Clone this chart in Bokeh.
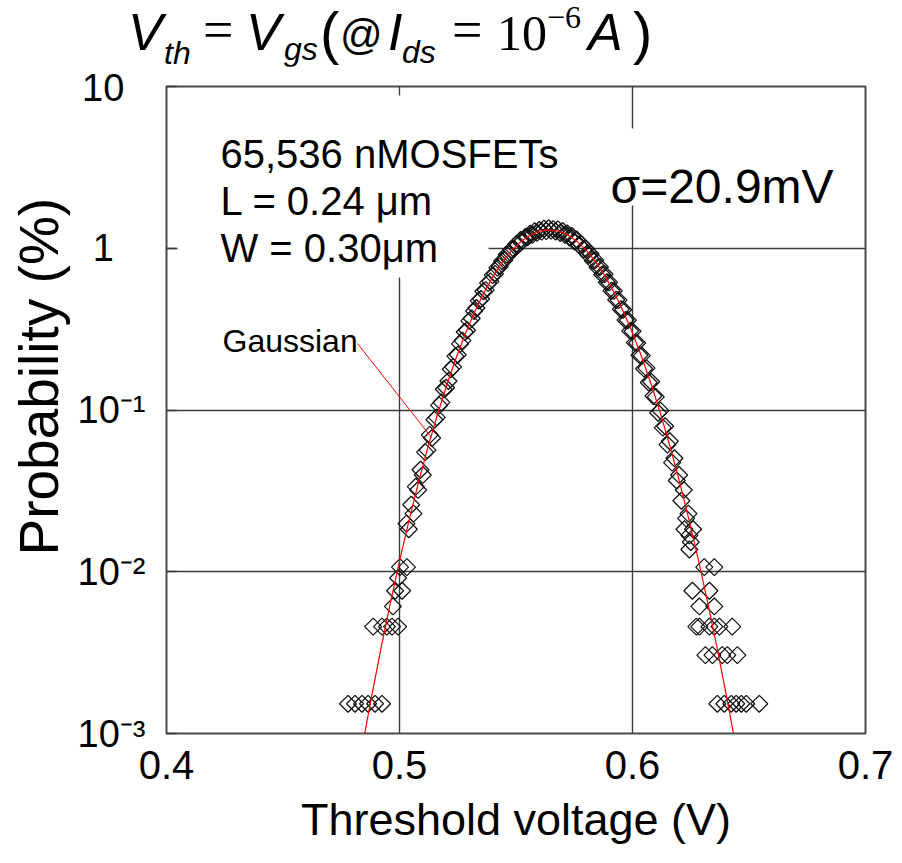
import numpy as np
from bokeh.plotting import figure
from bokeh.layouts import column
from bokeh.models import Range1d, FixedTicker, Label, BoxAnnotation, ColumnDataSource, Title, Div
from bokeh.embed import file_html
from bokeh.resources import INLINE

# ---------------- data ----------------
N_DEVICES = 65536

# main body of the histogram: threshold voltage (mV) and device counts per bin
body_vth_mV = list(range(503, 627))
body_counts = [13, 12, 17, 15, 22, 21, 28, 26, 36, 37, 46, 44, 57, 59, 70, 73, 88, 90, 99, 117,
               121, 141, 144, 168, 176, 199, 204, 233, 241, 268, 280, 311, 318, 355, 361, 400,
               409, 447, 455, 497, 505, 546, 553, 598, 603, 644, 650, 693, 688, 737, 730, 770,
               767, 806, 792, 835, 815, 850, 830, 866, 836, 871, 842, 860, 832, 857, 814, 838,
               792, 809, 762, 781, 724, 742, 689, 695, 644, 651, 596, 604, 548, 553, 499, 502,
               451, 453, 404, 403, 358, 357, 315, 313, 275, 273, 236, 235, 202, 201, 171, 170,
               143, 142, 118, 119, 97, 98, 80, 79, 63, 65, 51, 52, 40, 42, 31, 33, 24, 26, 18,
               21, 14, 15, 10, 12]

# scattered low-count tail bins
tail_vth_mV = [477.9, 480.9, 483.9, 486.5, 489.5, 492.5,
               488.7, 492.5, 494.6, 496.8, 499.4,
               497.2, 498.1, 501.1, 499.4, 500.2, 503.2,
               622.3, 624.4, 624.4, 630.8, 635.1, 625.7, 633.0, 628.7, 635.1,
               627.4, 628.7, 633.0, 635.1, 637.3, 642.8,
               631.3, 634.3, 638.5, 640.7, 645.0,
               636.4, 639.4, 642.4, 644.5, 646.7, 648.8, 654.4]
tail_counts = [1, 1, 1, 1, 1, 1,
               3, 3, 3, 3, 3,
               4, 5, 5, 6, 7, 7,
               12, 9, 11, 7, 7, 5, 5, 4, 4,
               3, 3, 3, 3, 3, 3,
               2, 2, 2, 2, 2,
               1, 1, 1, 1, 1, 1, 1]

# fitted Gaussian (sigma = 20.9 mV)
fit_vth = [0.4802, 0.4842, 0.4882, 0.4922, 0.4962, 0.5002, 0.5042, 0.5082, 0.5122, 0.5162,
           0.5202, 0.5242, 0.5282, 0.5322, 0.5362, 0.5402, 0.5442, 0.5482, 0.5522, 0.5562,
           0.5602, 0.5642, 0.5682, 0.5722, 0.5762, 0.5802, 0.5842, 0.5882, 0.5922, 0.5962,
           0.6002, 0.6042, 0.6082, 0.6122, 0.6162, 0.6202, 0.6242, 0.6282, 0.6322, 0.6362,
           0.6402, 0.6442, 0.6482]
fit_prob = [0.000404, 0.000856, 0.001747, 0.003443, 0.006538, 0.01197, 0.02110, 0.03590,
            0.05885, 0.09302, 0.1417, 0.2083, 0.2949, 0.4026, 0.5299, 0.6723, 0.8224, 0.9698,
            1.1025, 1.2082, 1.2764, 1.3, 1.2764, 1.2082, 1.1025, 0.9698, 0.8224, 0.6723,
            0.5299, 0.4026, 0.2949, 0.2083, 0.1417, 0.09302, 0.05885, 0.03590, 0.02110,
            0.01197, 0.006538, 0.003443, 0.001747, 0.000856, 0.000404]

x_ticks = [0.4, 0.5, 0.6, 0.7]
y_ticks = [0.001, 0.01, 0.1, 1, 10]
y_tick_labels = ["10\u207b\u00b3", "10\u207b\u00b2", "10\u207b\u00b9", "1\u2007\u2008", "10\u2007"]

info_lines = ["65,536 nMOSFETs", "L = 0.24 \u03bcm", "W = 0.30\u03bcm"]
sigma_text = "\u03c3=20.9mV"
fit_label = "Gaussian"
x_label = "Threshold voltage (V)"
y_label = "Probability (%)"

# ---------------- derived ----------------
vth = [v / 1000.0 for v in body_vth_mV + tail_vth_mV]
prob = [c * 100.0 / N_DEVICES for c in body_counts + tail_counts]
src = ColumnDataSource(dict(x=vth, y=prob))

SANS = "Liberation Sans"
SERIF = "Liberation Serif"

# frame geometry in canvas pixels
FL, FR, FT, FB = 166, 865, 86, 733
W, H = 902, 863
TITLE_H = 66

p = figure(width=W, height=H - TITLE_H, x_range=Range1d(0.4, 0.7), y_range=Range1d(0.001, 10),
           y_axis_type="log", output_backend="svg", toolbar_location=None,
           min_border_left=FL, min_border_right=W - FR, min_border_top=FT - TITLE_H,
           min_border_bottom=H - FB)
p.background_fill_color = "white"
p.border_fill_color = "white"
p.outline_line_color = "#4a4a4a"
p.outline_line_width = 2

# grids
for g in (p.xgrid, p.ygrid):
    g.grid_line_color = "#3c3c3c"
    g.grid_line_width = 1.4
p.xgrid.ticker = FixedTicker(ticks=x_ticks)
p.ygrid.ticker = FixedTicker(ticks=y_ticks)

# x axis
p.xaxis.ticker = FixedTicker(ticks=x_ticks)
p.xaxis.major_label_overrides = {t: f"{t:.1f}" for t in x_ticks}
p.xaxis.axis_line_color = None
p.xaxis.major_tick_in = 0
p.xaxis.major_tick_out = 0
p.xaxis.minor_tick_line_color = None
p.xaxis.major_label_text_font = SANS
p.xaxis.major_label_text_font_size = "40px"
p.xaxis.major_label_text_color = "black"
p.xaxis.major_label_standoff = 17
p.xaxis.axis_label = x_label
p.xaxis.axis_label_text_font = SANS
p.xaxis.axis_label_text_font_size = "45px"
p.xaxis.axis_label_text_font_style = "normal"
p.xaxis.axis_label_text_color = "black"
p.xaxis.axis_label_standoff = 12

# y axis
p.yaxis.ticker = FixedTicker(ticks=y_ticks)
p.yaxis.major_label_overrides = dict(zip(y_ticks, y_tick_labels))
p.yaxis.axis_line_color = None
p.yaxis.major_tick_in = 10
p.yaxis.major_tick_out = 0
p.yaxis.major_tick_line_color = "#3c3c3c"
p.yaxis.major_tick_line_width = 1.5
p.yaxis.minor_tick_line_color = None
p.yaxis.major_label_text_font = SANS
p.yaxis.major_label_text_font_size = "38px"
p.yaxis.major_label_text_color = "black"
p.yaxis.major_label_standoff = 21

# y axis title, starting 178 px above the frame bottom as in the original
p.add_layout(Title(text=y_label, align="left", offset=178, standoff=9,
                   text_font=SANS, text_font_size="55px", text_font_style="normal",
                   text_color="black"), "left")

# white boxes behind the texts (hide grid lines, as in the original)
def px_to_x(px):
    return 0.4 + (px - FL) / (FR - FL) * 0.3

def py_to_y(py):
    return 10 ** (1 - (py - FT) / (FB - FT) * 4)

for (l, r, t, b) in [(177, 488, 95, 277), (600, 845, 128, 205)]:
    p.add_layout(BoxAnnotation(left=px_to_x(l), right=px_to_x(r), top=py_to_y(t),
                               bottom=py_to_y(b), fill_color="white", fill_alpha=1.0,
                               line_alpha=0, level="underlay"))

# data
p.scatter("x", "y", source=src, marker="square", angle=np.pi / 4, size=12,
          fill_color=None, line_color="#111111", line_width=1.25)
p.line(fit_vth, fit_prob, line_color="red", line_width=1.2)

# leader line from the "Gaussian" label to the fit
p.segment(x0=[px_to_x(357)], y0=[py_to_y(343)], x1=[px_to_x(431)], y1=[py_to_y(437)],
          line_color="red", line_width=1)

def add_text(text, X, Y, size, font=SANS, style="normal", align="left", baseline="alphabetic"):
    p.add_layout(Label(x=px_to_x(X), y=py_to_y(Y), text=text,
                       text_font=font, text_font_size=f"{size}px", text_font_style=style,
                       text_color="black", text_align=align, text_baseline=baseline))

# info texts inside the plot
for i, line in enumerate(info_lines):
    add_text(line, 220, 153 + 47 * i, 40)
add_text(sigma_text, 610, 186, 48)
add_text(fit_label, 222, 340, 32)

# title: V_th = V_gs(@ I_ds = 10^-6 A)  (canvas x, baseline y, font, size, style)
title_parts = [
    ("V", 128, 50, SANS, 52, "italic"),
    ("th", 164, 64, SANS, 32, "italic"),
    ("=", 203, 48, SERIF, 54, "normal"),
    ("V", 246, 50, SANS, 52, "italic"),
    ("gs", 284, 60, SANS, 32, "italic"),
    ("(", 320, 53, SANS, 58, "normal"),
    ("@", 340, 50, SANS, 42, "normal"),
    ("I", 388, 50, SANS, 52, "italic"),
    ("ds", 402, 63, SANS, 32, "italic"),
    ("=", 452, 48, SERIF, 54, "normal"),
    ("10", 497, 50, SERIF, 50, "normal"),
    ("\u22126", 547, 28, SERIF, 32, "normal"),
    ("A", 588, 50, SANS, 52, "italic"),
    (")", 633, 53, SANS, 58, "normal"),
]
spans = []
for txt, X, Y, font, size, style in title_parts:
    asc = 0.8465 if font == SANS else 0.8375
    top = Y - asc * size
    spans.append(f'<span style="position:absolute;left:{X}px;top:{top:.1f}px;'
                 f'font-family:\'{font}\';font-size:{size}px;line-height:{size}px;'
                 f'font-style:{style};color:black;white-space:nowrap;">{txt}</span>')
title_html = (f'<div style="position:relative;width:{W}px;height:{TITLE_H}px;overflow:visible;">'
              + "".join(spans) + "</div>")
title_div = Div(text=title_html, width=W, height=TITLE_H, margin=(0, 0, 0, 0))

layout = column(title_div, p, spacing=0)
open("out.html", "w").write(file_html(layout, INLINE))
